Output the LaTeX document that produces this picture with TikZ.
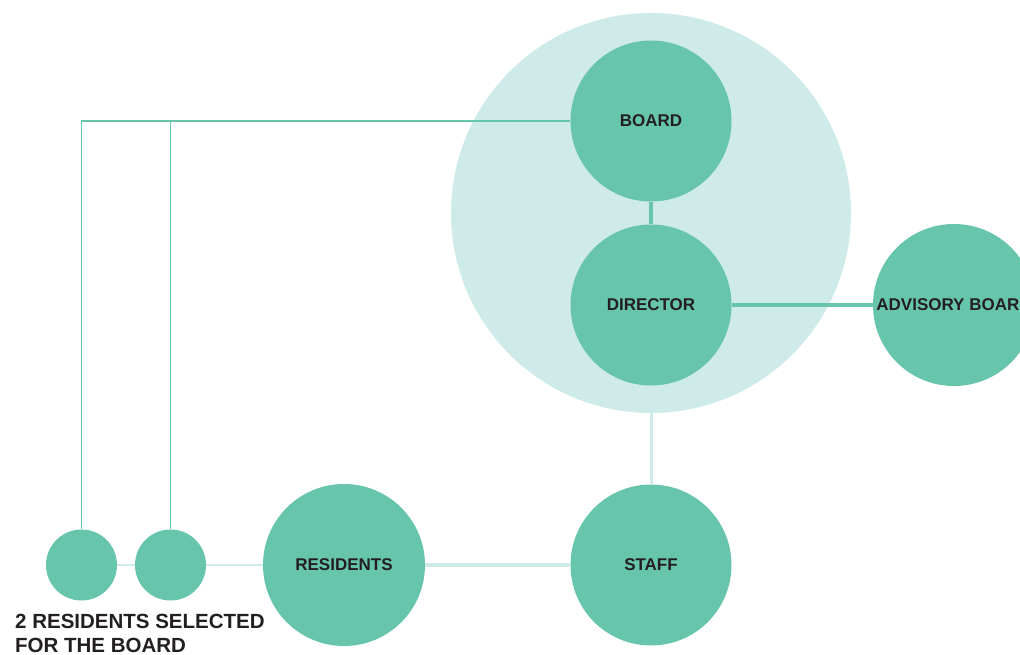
\documentclass[tikz,border=0pt]{standalone}
\usepackage{fontspec}
\setmainfont{Liberation Sans}
\definecolor{teal1}{HTML}{67C5AC}
\definecolor{pale}{HTML}{CEEBEA}
\definecolor{ink}{HTML}{231F20}
\begin{document}
\begin{tikzpicture}[x=1pt,y=-1pt,
  bubble/.style={circle,fill=teal1,inner sep=0pt,minimum size=#1,text=ink,font=\fontsize{17}{18}\selectfont\bfseries},
  tealline/.style={draw=teal1,line width=1.6pt},
  thickteal/.style={draw=teal1,line width=3.2pt},
  paleline/.style={draw=pale,line width=#1}]
\useasboundingbox (0,0) rectangle (1020,655);
\clip (0,0) rectangle (1020,655);
% big pale circle
\node[circle,fill=pale,inner sep=0pt,minimum size=400pt] (core) at (651,213) {};
% nodes
\node[bubble=161pt] (board) at (651,121) {BOARD};
\node[bubble=161pt] (director) at (651,305) {DIRECTOR};
\node[bubble=162pt] (advisory) at (954,305) {ADVISORY BOARD};
\node[bubble=161pt] (staff) at (651,565) {STAFF};
\node[bubble=162pt] (residents) at (344,565) {RESIDENTS};
\node[bubble=71pt] (rep1) at (81.5,565) {};
\node[bubble=71pt] (rep2) at (170.5,565) {};
\node[anchor=north west,inner sep=0pt,align=left,text=ink,font=\fontsize{20.5}{24}\selectfont\bfseries] (sel) at (15,614) {2 RESIDENTS SELECTED\\FOR THE BOARD};
% connectors
\coordinate (c1) at (rep1 |- board);
\coordinate (c2) at (rep2 |- board);
\draw[tealline] (board.west) -- (c1) -- (rep1.north);
\draw[tealline] (c2) -- (rep2.north);
\draw[thickteal] (board.south) -- (director.north);
\draw[thickteal] (director.east) -- (advisory.west);
\draw[paleline=3pt] (core.south) -- (staff.north);
\draw[paleline=4pt] (residents.east) -- (staff.west);
\draw[paleline=2pt] (rep1.east) -- (rep2.west);
\draw[paleline=2pt] (rep2.east) -- (residents.west);
\end{tikzpicture}
\end{document}
